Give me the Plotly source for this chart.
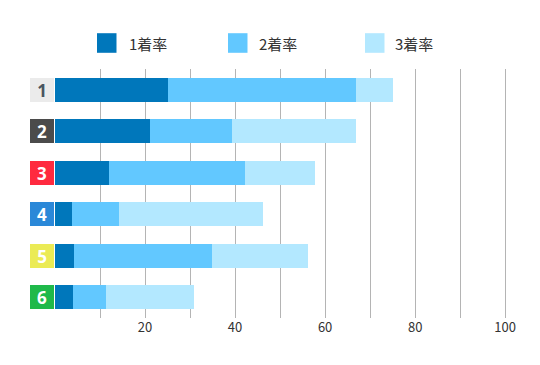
import plotly.graph_objects as go

# ---- data ----
boats = ["1", "2", "3", "4", "5", "6"]
series_names = ["1着率", "2着率", "3着率"]
rate1 = [25.0, 21.2, 12.1, 3.7, 4.3, 3.9]
rate2 = [41.8, 18.2, 30.2, 10.6, 30.5, 7.5]
rate3 = [8.2, 27.4, 15.4, 32.0, 21.5, 19.4]
x_tickvals = [10, 20, 30, 40, 50, 60, 70, 80, 90, 100]
x_ticktext = ["", "20", "", "40", "", "60", "", "80", "", "100"]

# ---- styles ----
series_colors = ["#0077bb", "#62c8ff", "#b3e8ff"]
boat_bg = ["#ebebeb", "#4b4b4b", "#ff2a3f", "#2a88d8", "#ebeb55", "#1fb94a"]
boat_fg = ["#4a5560", "#ffffff", "#ffffff", "#ffffff", "#ffffff", "#ffffff"]

OFF = 8  # page body margin
W, H = 540 - OFF, 365 - OFF
L, R, T, B = 55 - OFF, 33, 69 - OFF, 47
PW, PH = W - L - R, H - T - B


def px_x(px):
    return (px - OFF - L) / PW


def px_y(py):
    return 1 - (py - OFF - T) / PH


fig = go.Figure()
for name, vals, col in zip(series_names, [rate1, rate2, rate3], series_colors):
    fig.add_trace(go.Bar(
        y=boats, x=vals, name=name, orientation="h",
        marker=dict(color=col, line=dict(width=0)),
        showlegend=False, hoverinfo="x+name",
    ))

annotations = []
shapes = []
# boat number boxes
for i, (b, bg, fg) in enumerate(zip(boats, boat_bg, boat_fg)):
    annotations.append(dict(
        x=0, y=i, xref="x", yref="y", xanchor="right", yanchor="middle",
        xshift=-1.5, text=f"<b>{b}</b>", showarrow=False,
        width=24, height=24, bgcolor=bg, borderpad=0, borderwidth=0,
        font=dict(family="Noto Sans, DejaVu Sans", size=17, color=fg),
        align="center", valign="middle",
    ))

# custom legend
leg_sq_x = [97, 228, 365]
leg_tx_x = [127, 257, 393]
leg_y = 43
for name, col, sx, tx in zip(series_names, series_colors, leg_sq_x, leg_tx_x):
    shapes.append(dict(
        type="rect", xref="paper", yref="paper",
        x0=px_x(sx), x1=px_x(sx + 19.5), y0=px_y(leg_y - 9.8), y1=px_y(leg_y + 9.8),
        fillcolor=col, line=dict(width=0),
    ))
    annotations.append(dict(
        x=px_x(tx), y=px_y(leg_y), xref="paper", yref="paper",
        xanchor="left", yanchor="middle", text=name, showarrow=False,
        font=dict(family="Noto Sans CJK JP", size=15, color="#333333"),
    ))

fig.update_layout(
    width=W, height=H,
    margin=dict(l=L, r=R, t=T, b=B, pad=0),
    paper_bgcolor="white", plot_bgcolor="white",
    barmode="stack", bargap=0.42,
    showlegend=False,
    annotations=annotations, shapes=shapes,
    xaxis=dict(
        range=[0, 100.4], tickvals=x_tickvals, ticktext=x_ticktext,
        showgrid=True, gridcolor="#b4b4b4", gridwidth=1,
        zeroline=False, showline=False, ticks="",
        tickfont=dict(family="Noto Sans CJK JP", size=13, color="#333333"),
        fixedrange=True,
    ),
    yaxis=dict(
        categoryorder="array", categoryarray=boats, autorange="reversed",
        showticklabels=False, showgrid=False, zeroline=False, ticks="",
        fixedrange=True,
    ),
)

fig.write_html("out.html")
